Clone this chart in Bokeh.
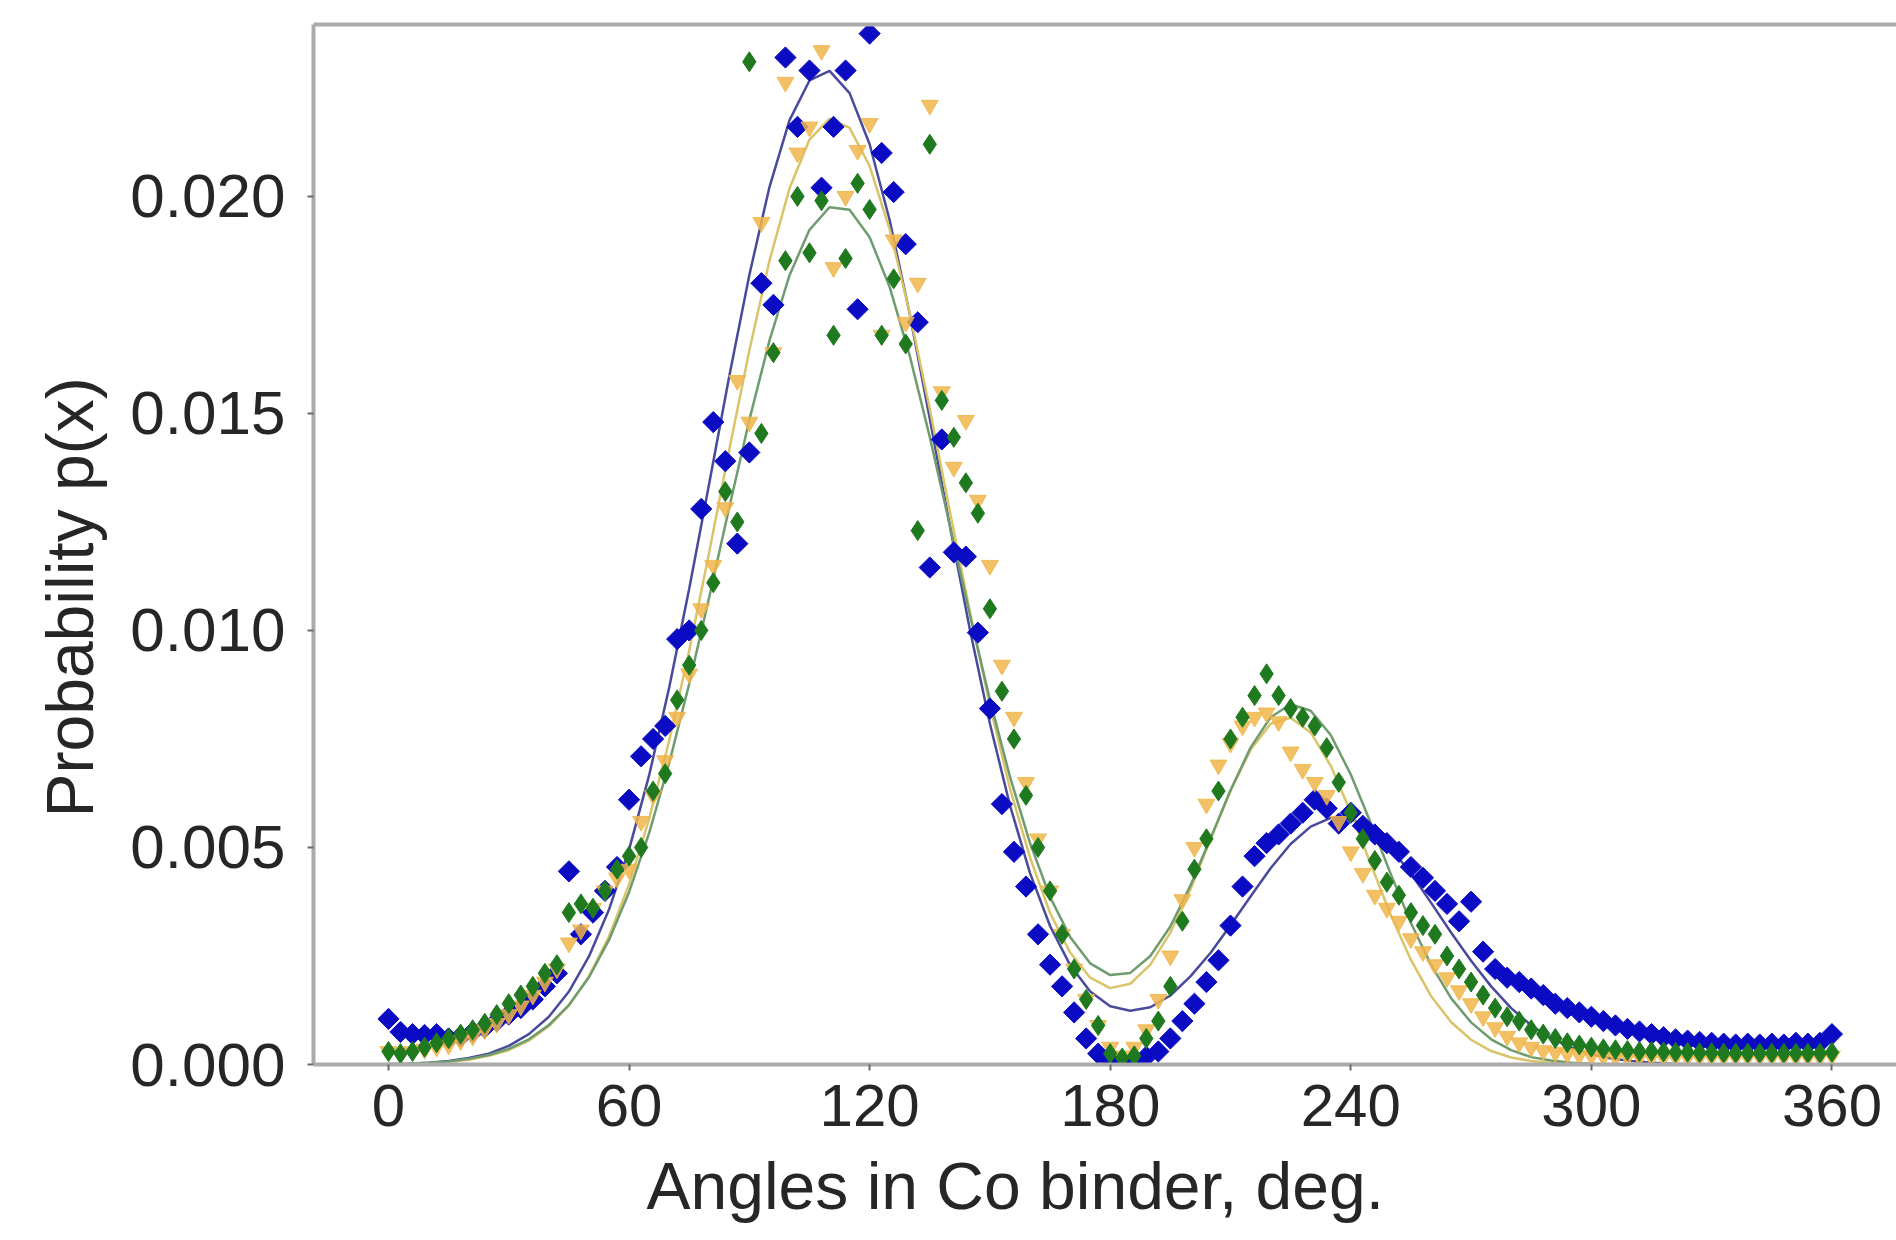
from bokeh.plotting import figure
from bokeh.models import Range1d, FixedTicker, NumeralTickFormatter, LinearAxis, Title
from bokeh.embed import file_html
from bokeh.resources import INLINE

# ---------------- data ----------------
angles = list(range(0, 361, 3))  # measured angles, deg

blue_pts = [0.00105, 0.00075, 0.00070, 0.00068, 0.00070, 0.00060, 0.00065, 0.00075, 0.00085, 0.00100,
            0.00115, 0.00130, 0.00150, 0.00180, 0.00210, 0.00445, 0.00300, 0.00350, 0.00400, 0.00455,
            0.00610, 0.00710, 0.00750, 0.00780, 0.00980, 0.01000, 0.01280, 0.01480, 0.01390, 0.01200,
            0.01410, 0.01800, 0.01750, 0.02320, 0.02160, 0.02290, 0.02020, 0.02160, 0.02290, 0.01740,
            0.02375, 0.02100, 0.02010, 0.01890, 0.01710, 0.01145, 0.01440, 0.01180, 0.01170, 0.00995,
            0.00820, 0.00600, 0.00490, 0.00410, 0.00300, 0.00230, 0.00180, 0.00120, 0.00060, 0.00025,
            0.00008, 0.00003, 0.00008, 0.00018, 0.00030, 0.00060, 0.00100, 0.00140, 0.00190, 0.00240,
            0.00320, 0.00410, 0.00480, 0.00510, 0.00530, 0.00555, 0.00580, 0.00610, 0.00590, 0.00555,
            0.00580, 0.00550, 0.00530, 0.00510, 0.00490, 0.00455, 0.00430, 0.00400, 0.00370, 0.00330,
            0.00375, 0.00260, 0.00220, 0.00200, 0.00190, 0.00175, 0.00160, 0.00140, 0.00130, 0.00120,
            0.00110, 0.00100, 0.00090, 0.00082, 0.00076, 0.00070, 0.00063, 0.00058, 0.00055, 0.00052,
            0.00050, 0.00048, 0.00046, 0.00048, 0.00046, 0.00048, 0.00046, 0.00050, 0.00048, 0.00050,
            0.00070]

orange_pts = [0.00030, 0.00025, 0.00030, 0.00035, 0.00040, 0.00045, 0.00055, 0.00065, 0.00080, 0.00095,
              0.00115, 0.00135, 0.00160, 0.00190, 0.00220, 0.00280, 0.00310, 0.00360, 0.00400, 0.00430,
              0.00450, 0.00560, 0.00620, 0.00700, 0.00800, 0.00900, 0.01050, 0.01150, 0.01283, 0.01576,
              0.01480, 0.01940, 0.01640, 0.02263, 0.02100, 0.02160, 0.02336, 0.01836, 0.02000, 0.02106,
              0.02168, 0.01680, 0.01900, 0.01710, 0.01800, 0.02210, 0.01550, 0.01376, 0.01484, 0.01300,
              0.01150, 0.00920, 0.00800, 0.00650, 0.00520, 0.00400, 0.00300, 0.00220, 0.00150, 0.00090,
              0.00040, 0.00020, 0.00040, 0.00080, 0.00150, 0.00250, 0.00380, 0.00500, 0.00600, 0.00690,
              0.00740, 0.00780, 0.00800, 0.00810, 0.00790, 0.00720, 0.00680, 0.00650, 0.00620, 0.00560,
              0.00490, 0.00440, 0.00390, 0.00360, 0.00330, 0.00290, 0.00260, 0.00230, 0.00200, 0.00170,
              0.00140, 0.00110, 0.00085, 0.00065, 0.00050, 0.00040, 0.00032, 0.00028, 0.00025, 0.00022,
              0.00020, 0.00019, 0.00018, 0.00018, 0.00018, 0.00018, 0.00017, 0.00017, 0.00017, 0.00017,
              0.00017, 0.00017, 0.00017, 0.00017, 0.00017, 0.00017, 0.00017, 0.00017, 0.00017, 0.00017,
              0.00020]

green_pts = [0.00030, 0.00025, 0.00030, 0.00040, 0.00050, 0.00060, 0.00070, 0.00080, 0.00095, 0.00115,
             0.00140, 0.00160, 0.00180, 0.00210, 0.00230, 0.00350, 0.00370, 0.00360, 0.00400, 0.00450,
             0.00480, 0.00500, 0.00630, 0.00670, 0.00840, 0.00920, 0.01000, 0.01110, 0.01320, 0.01250,
             0.02310, 0.01454, 0.01640, 0.01852, 0.02000, 0.01870, 0.01990, 0.01680, 0.01857, 0.02030,
             0.01970, 0.01680, 0.01810, 0.01660, 0.01230, 0.02120, 0.01530, 0.01445, 0.01340, 0.01270,
             0.01050, 0.00860, 0.00750, 0.00620, 0.00500, 0.00400, 0.00300, 0.00220, 0.00150, 0.00090,
             0.00025, 0.00015, 0.00020, 0.00060, 0.00100, 0.00180, 0.00330, 0.00450, 0.00520, 0.00630,
             0.00750, 0.00800, 0.00850, 0.00900, 0.00850, 0.00820, 0.00800, 0.00780, 0.00730, 0.00650,
             0.00580, 0.00520, 0.00470, 0.00420, 0.00390, 0.00350, 0.00320, 0.00300, 0.00250, 0.00220,
             0.00190, 0.00160, 0.00130, 0.00110, 0.00100, 0.00080, 0.00070, 0.00060, 0.00050, 0.00045,
             0.00040, 0.00036, 0.00034, 0.00032, 0.00030, 0.00030, 0.00029, 0.00028, 0.00028, 0.00027,
             0.00027, 0.00026, 0.00026, 0.00026, 0.00026, 0.00026, 0.00026, 0.00026, 0.00026, 0.00026,
             0.00028]

fit_angles = list(range(0, 361, 5))

blue_fit = [0.00001, 0.00002, 0.00004, 0.00008, 0.00015, 0.00025, 0.00043, 0.00070, 0.00110, 0.00168,
            0.00249, 0.00357, 0.00495, 0.00666, 0.00868, 0.01096, 0.01339, 0.01586, 0.01819, 0.02021,
            0.02175, 0.02267, 0.02289, 0.02238, 0.02120, 0.01945, 0.01729, 0.01488, 0.01241, 0.01002,
            0.00785, 0.00597, 0.00441, 0.00319, 0.00229, 0.00168, 0.00134, 0.00124, 0.00132, 0.00159,
            0.00203, 0.00257, 0.00321, 0.00387, 0.00452, 0.00508, 0.00548, 0.00568, 0.00566, 0.00542,
            0.00498, 0.00440, 0.00373, 0.00304, 0.00239, 0.00180, 0.00130, 0.00090, 0.00060, 0.00039,
            0.00024, 0.00014, 0.00008, 0.00004, 0.00002, 0.00001, 0.0, 0.0, 0.0, 0.0,
            0.0, 0.0, 0.0]

orange_fit = [0.00001, 0.00002, 0.00003, 0.00006, 0.00011, 0.00020, 0.00033, 0.00055, 0.00088, 0.00136,
              0.00203, 0.00295, 0.00415, 0.00566, 0.00746, 0.00954, 0.01181, 0.01417, 0.01645, 0.01851,
              0.02018, 0.02131, 0.02179, 0.02158, 0.02070, 0.01924, 0.01731, 0.01510, 0.01275, 0.01043,
              0.00827, 0.00636, 0.00477, 0.00349, 0.00258, 0.00200, 0.00176, 0.00186, 0.00230, 0.00304,
              0.00403, 0.00518, 0.00630, 0.00725, 0.00785, 0.00799, 0.00765, 0.00688, 0.00581, 0.00461,
              0.00344, 0.00241, 0.00158, 0.00098, 0.00057, 0.00031, 0.00016, 0.00008, 0.00004, 0.00002,
              0.00001, 0.0, 0.0, 0.0, 0.0, 0.0, 0.0, 0.0, 0.0, 0.0,
              0.0, 0.0, 0.0]

green_fit = [0.00001, 0.00002, 0.00004, 0.00007, 0.00013, 0.00022, 0.00036, 0.00058, 0.00091, 0.00137,
             0.00201, 0.00287, 0.00397, 0.00533, 0.00694, 0.00877, 0.01077, 0.01284, 0.01485, 0.01667,
             0.01818, 0.01923, 0.01975, 0.01969, 0.01906, 0.01791, 0.01633, 0.01446, 0.01242, 0.01036,
             0.00840, 0.00663, 0.00510, 0.00386, 0.00294, 0.00233, 0.00206, 0.00211, 0.00250, 0.00318,
             0.00412, 0.00521, 0.00632, 0.00730, 0.00800, 0.00830, 0.00815, 0.00759, 0.00668, 0.00556,
             0.00438, 0.00326, 0.00230, 0.00153, 0.00097, 0.00058, 0.00033, 0.00017, 0.00009, 0.00004,
             0.00002, 0.00001, 0.0, 0.0, 0.0, 0.0, 0.0, 0.0, 0.0, 0.0,
             0.0, 0.0, 0.0]

x_ticks = [0, 60, 120, 180, 240, 300, 360]
y_ticks = [0.0, 0.005, 0.010, 0.015, 0.020]
x_title = "Angles in Co binder, deg."
y_title = "Probability p(x)"

# ---------------- figure ----------------
FONT = "Liberation Sans"
TEXT = "#262626"
SPINE = "#ababab"

p = figure(width=1896, height=1240,
           x_range=Range1d(-18.7, 376.1), y_range=Range1d(0, 0.02396),
           output_backend="svg", toolbar_location=None,
           min_border_left=313, min_border_right=0, min_border_top=24, min_border_bottom=176)
p.outline_line_color = None
p.xgrid.visible = False
p.ygrid.visible = False
p.background_fill_color = "white"
p.border_fill_color = "white"

p.xaxis.ticker = FixedTicker(ticks=x_ticks)
p.yaxis.ticker = FixedTicker(ticks=y_ticks)
p.yaxis.formatter = NumeralTickFormatter(format="0.000")
for ax in (p.xaxis, p.yaxis):
    ax.axis_line_color = SPINE
    ax.axis_line_width = 4
    ax.major_tick_line_color = "#6a6a6a"
    ax.major_tick_line_width = 2
    ax.major_tick_in = 0
    ax.major_tick_out = 6
    ax.minor_tick_line_color = None
    ax.major_label_text_font = FONT
    ax.major_label_text_color = TEXT
p.xaxis.major_label_text_font_size = "60px"
p.yaxis.major_label_text_font_size = "62px"
p.xaxis.major_label_standoff = 14
p.yaxis.major_label_standoff = 22

top = LinearAxis(ticker=FixedTicker(ticks=[]), axis_line_color=SPINE, axis_line_width=4,
                 major_tick_line_color=None, minor_tick_line_color=None,
                 major_label_text_font_size="0px")
p.add_layout(top, "above")

# axis titles (placed as side titles so they can sit off-centre like the original)
p.add_layout(Title(text=x_title, align="left", offset=333, standoff=36,
                   text_font=FONT, text_font_size="66px", text_font_style="normal",
                   text_color=TEXT), "below")
p.add_layout(Title(text=y_title, align="left", offset=247, standoff=42,
                   text_font=FONT, text_font_size="66px", text_font_style="normal",
                   text_color=TEXT), "left")

# fitted curves
p.line(fit_angles, blue_fit, line_color="#4a4a9c", line_width=2.5)
p.line(fit_angles, orange_fit, line_color="#d9c46a", line_width=2.5)
p.line(fit_angles, green_fit, line_color="#6f9c6f", line_width=2.5)

# measured points
p.scatter(angles, blue_pts, marker="square", angle=0.785398, size=15,
          fill_color="#0b0bc4", line_color="#0b0bc4")
p.scatter(angles, orange_pts, marker="inverted_triangle", size=17,
          fill_color="#f0b54a", line_color="#f0b54a", alpha=0.85)
p.scatter(angles, green_pts, marker="diamond", size=20,
          fill_color="#1f7a1f", line_color="#1f7a1f")

open("out.html", "w").write(file_html(p, INLINE))
